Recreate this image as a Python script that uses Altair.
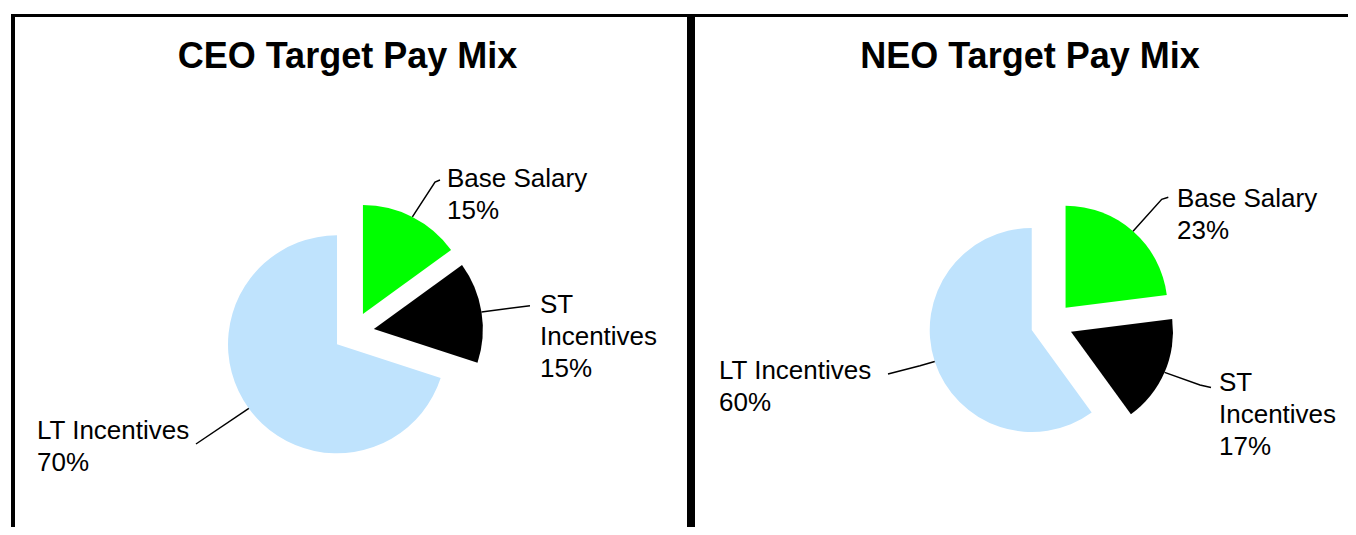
import math
import altair as alt
import pandas as pd

# ---------------- data ----------------
panels = ["CEO", "NEO"]
panel_titles = ["CEO Target Pay Mix", "NEO Target Pay Mix"]
categories = ["Base Salary", "ST Incentives", "LT Incentives"]
label_names = ["Base Salary", "ST\nIncentives", "LT Incentives"]
ceo_values = [15, 15, 70]
neo_values = [23, 17, 60]
slice_colors = ["#00FF00", "#000000", "#BFE3FD"]

values_by_panel = {"CEO": ceo_values, "NEO": neo_values}

# ---------------- layout (page pixels) ----------------
W, H, M = 1340, 519, 8
pie_layout = {
    "CEO": dict(cx=353.6, cy=332.3, r=109, e=20.5),
    "NEO": dict(cx=1051.7, cy=323.5, r=102, e=21.0),
}
title_pos = {"CEO": (347.5, 68), "NEO": (1030, 68)}
label_pos = {
    ("CEO", "Base Salary"): (447, 187),
    ("CEO", "ST Incentives"): (540, 313),
    ("CEO", "LT Incentives"): (37, 439),
    ("NEO", "Base Salary"): (1177, 206.5),
    ("NEO", "ST Incentives"): (1219, 391),
    ("NEO", "LT Incentives"): (719, 379),
}
leader_tail = {
    ("CEO", "Base Salary"): [(435, 182), (440, 180)],
    ("CEO", "ST Incentives"): [(530, 305.7)],
    ("CEO", "LT Incentives"): [(196, 444)],
    ("NEO", "Base Salary"): [(1161.7, 199.3), (1168.3, 197.3)],
    ("NEO", "ST Incentives"): [(1200, 385), (1211, 387.5)],
    ("NEO", "LT Incentives"): [(920, 365.7), (888, 374)],
}
borders = pd.DataFrame({
    "x": [11, 11, 687],
    "x2": [1348, 15, 695],
    "y": [14, 14, 14],
    "y2": [17, 527, 527],
})

# ---------------- derived tables ----------------
slice_rows, leader_rows, label_rows = [], [], []
for p in panels:
    vals = values_by_panel[p]
    total = float(sum(vals))
    L = pie_layout[p]
    cum = 0.0
    for cat, name, v in zip(categories, label_names, vals):
        t0, t1 = cum, cum + v
        cum = t1
        mid = 2 * math.pi * ((t0 + t1) / 2) / total
        sx = L["cx"] + L["e"] * math.sin(mid)
        sy = L["cy"] - L["e"] * math.cos(mid)
        slice_rows.append(dict(panel=p, cat=cat, value=v, t0=t0 / total * 100,
                               t1=t1 / total * 100, sx=sx, sy=sy))
        # leader line from the middle of the slice's outer arc
        px = sx + L["r"] * math.sin(mid)
        py = sy - L["r"] * math.cos(mid)
        pts = [(px, py)] + leader_tail[(p, cat)]
        for i, (lx, ly) in enumerate(pts):
            leader_rows.append(dict(key=f"{p}-{cat}", o=i, lx=lx, ly=ly))
        tx, ty = label_pos[(p, cat)]
        label_rows.append(dict(text=f"{name}\n{v}%", tx=tx, ty=ty))

slices = pd.DataFrame(slice_rows)
leaders = pd.DataFrame(leader_rows)
labels = pd.DataFrame(label_rows)
titles = pd.DataFrame({
    "text": panel_titles,
    "tx": [title_pos[p][0] for p in panels],
    "ty": [title_pos[p][1] for p in panels],
})

xs = alt.Scale(domain=[M, M + W], range=[0, W], nice=False, zero=False)
ys = alt.Scale(domain=[M, M + H], reverse=True, nice=False, zero=False)
ts = alt.Scale(domain=[0, 100], range=[0, 2 * math.pi])
cs = alt.Scale(domain=categories, range=slice_colors)

border_layer = alt.Chart(borders).mark_rect(color="#000000").encode(
    x=alt.X("x:Q", scale=xs, axis=None),
    x2="x2:Q",
    y=alt.Y("y:Q", scale=ys, axis=None),
    y2="y2:Q",
)

pie_layers = []
for p in panels:
    pie_layers.append(
        alt.Chart(slices[slices["panel"] == p]).mark_arc(
            radius=pie_layout[p]["r"], stroke=None
        ).encode(
            x=alt.X("sx:Q", scale=xs, axis=None),
            y=alt.Y("sy:Q", scale=ys, axis=None),
            theta=alt.Theta("t0:Q", scale=ts, stack=None),
            theta2="t1:Q",
            color=alt.Color("cat:N", scale=cs, legend=None),
        )
    )

leader_layer = alt.Chart(leaders).mark_line(color="#000000", strokeWidth=1.5).encode(
    x=alt.X("lx:Q", scale=xs, axis=None),
    y=alt.Y("ly:Q", scale=ys, axis=None),
    detail="key:N",
    order="o:Q",
)

label_layer = alt.Chart(labels).mark_text(
    align="left", baseline="alphabetic", lineBreak="\n", lineHeight=32,
    font="Liberation Sans", fontSize=26, color="#000000",
).encode(
    x=alt.X("tx:Q", scale=xs, axis=None),
    y=alt.Y("ty:Q", scale=ys, axis=None),
    text="text:N",
)

title_layer = alt.Chart(titles).mark_text(
    align="center", baseline="alphabetic", font="Liberation Sans",
    fontSize=36, fontWeight="bold", color="#000000",
).encode(
    x=alt.X("tx:Q", scale=xs, axis=None),
    y=alt.Y("ty:Q", scale=ys, axis=None),
    text="text:N",
)

chart = alt.layer(
    border_layer, *pie_layers, leader_layer, label_layer, title_layer
).properties(
    width=W, height=H, padding=0, autosize="none", background="#FFFFFF"
).configure_view(stroke=None)

chart.save("out.html", embed_options={"renderer": "svg", "actions": False})
